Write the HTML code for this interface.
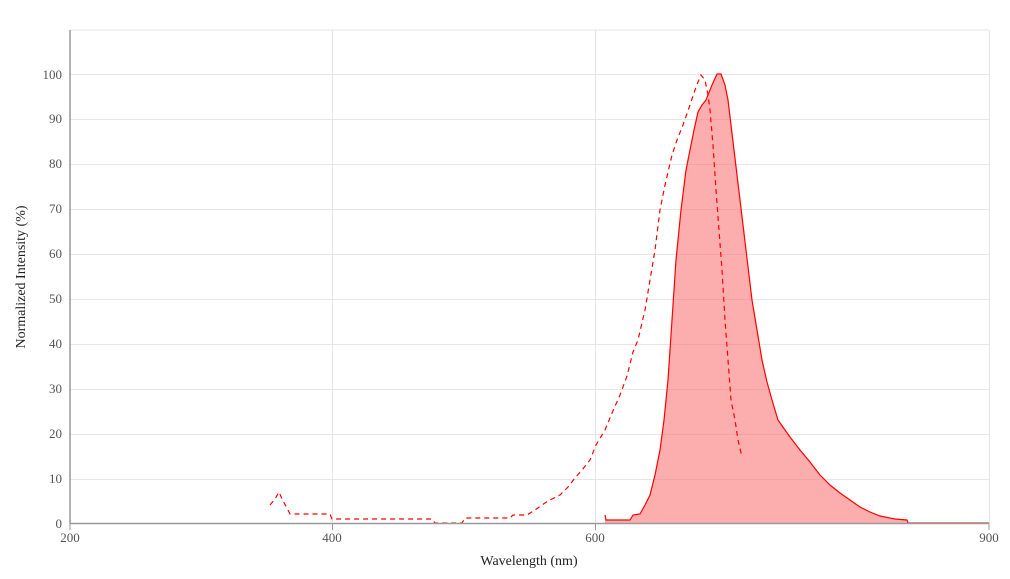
<!DOCTYPE html>
<html><head><meta charset="utf-8"><style>
body{margin:0;background:#fff;}
svg text{font-family:"Liberation Serif",serif;}
</style></head><body>
<svg width="1010" height="574" viewBox="0 0 1010 574" xmlns="http://www.w3.org/2000/svg">
<g stroke="#e6e6e6" stroke-width="1">
<line x1="70" y1="30" x2="989" y2="30"/>
<line x1="70" y1="74.5" x2="989" y2="74.5"/><line x1="70" y1="119.5" x2="989" y2="119.5"/>
<line x1="70" y1="164.5" x2="989" y2="164.5"/><line x1="70" y1="209.5" x2="989" y2="209.5"/>
<line x1="70" y1="254.5" x2="989" y2="254.5"/><line x1="70" y1="299.5" x2="989" y2="299.5"/>
<line x1="70" y1="344.5" x2="989" y2="344.5"/><line x1="70" y1="389.5" x2="989" y2="389.5"/>
<line x1="70" y1="434.5" x2="989" y2="434.5"/><line x1="70" y1="479.5" x2="989" y2="479.5"/>
<line x1="332.5" y1="30" x2="332.5" y2="523"/><line x1="595.5" y1="30" x2="595.5" y2="523"/>
<line x1="989.5" y1="30" x2="989.5" y2="523"/>
</g>
<path d="M605,515 L606,520 L630,520 L633,515 L640,514 L645,505 L650,495 L655,475 L660,450 L664,420 L668,380 L672,320 L676,260 L681,210 L686,170 L690,150 L694,130 L698,112 L702,105 L706,100 L712,85 L717,74 L721,74 L725,85 L728,100 L734,150 L740,200 L746,250 L752,300 L757,330 L762,360 L767,382 L772,400 L778,420 L785,430 L790,437 L800,450 L810,462 L820,475 L830,485 L840,493 L850,500 L860,507 L870,512 L880,516 L895,519 L907,520 L908,523 L989,523 L605,523 Z" fill="rgba(250,120,120,0.6)" stroke="none"/>
<path d="M605,515 L606,520 L630,520 L633,515 L640,514 L645,505 L650,495 L655,475 L660,450 L664,420 L668,380 L672,320 L676,260 L681,210 L686,170 L690,150 L694,130 L698,112 L702,105 L706,100 L712,85 L717,74 L721,74 L725,85 L728,100 L734,150 L740,200 L746,250 L752,300 L757,330 L762,360 L767,382 L772,400 L778,420 L785,430 L790,437 L800,450 L810,462 L820,475 L830,485 L840,493 L850,500 L860,507 L870,512 L880,516 L895,519 L907,520 L908,523 L989,523" fill="none" stroke="#f00" stroke-width="1.2"/>
<path d="M270,505 L275,499 L279,492 L283,501 L287,508 L290,514 L330,514 L332,519 L432,519 L435,523 L462,523 L465,518 L468,518 L510,518 L513,515 L527,515 L535,510 L542,505 L548,501 L560,495 L568,487 L575,478 L582,470 L590,460 L596,445 L605,430 L612,413 L620,395 L627,376 L633,352 L638,340 L645,310 L650,280 L655,250 L660,210 L665,185 L672,155 L677,140 L683,125 L690,105 L695,90 L698,82 L701,75 L705,80 L708,95 L710,110 L713,145 L716,190 L719,230 L722,270 L725,320 L728,360 L731,400 L735,420 L738,440 L742,457" fill="none" stroke="#f00" stroke-width="1.2" stroke-dasharray="5,4"/>
<line x1="70" y1="30" x2="70" y2="523.5" stroke="#999" stroke-width="1.5"/>
<line x1="70" y1="523.5" x2="989" y2="523.5" stroke="#999" stroke-width="1.5"/>
<g stroke="#999"><line x1="70" y1="523" x2="70" y2="530"/><line x1="332.5" y1="523" x2="332.5" y2="530"/><line x1="595.5" y1="523" x2="595.5" y2="530"/><line x1="989" y1="523" x2="989" y2="530"/></g>
<g font-size="13" fill="#555" text-anchor="end">
<text x="62" y="528">0</text><text x="62" y="483">10</text><text x="62" y="438">20</text><text x="62" y="393">30</text><text x="62" y="348">40</text><text x="62" y="303">50</text><text x="62" y="258">60</text><text x="62" y="213">70</text><text x="62" y="168">80</text><text x="62" y="123">90</text><text x="62" y="79">100</text>
</g>
<g font-size="13" fill="#555" text-anchor="middle">
<text x="70" y="542">200</text><text x="332" y="542">400</text><text x="595" y="542">600</text><text x="989" y="542">900</text>
</g>
<text x="529" y="565" font-size="14" text-anchor="middle" fill="#222">Wavelength (nm)</text>
<text transform="translate(25,277) rotate(-90)" font-size="14" text-anchor="middle" fill="#222">Normalized Intensity (%)</text>
</svg>
</body></html>
